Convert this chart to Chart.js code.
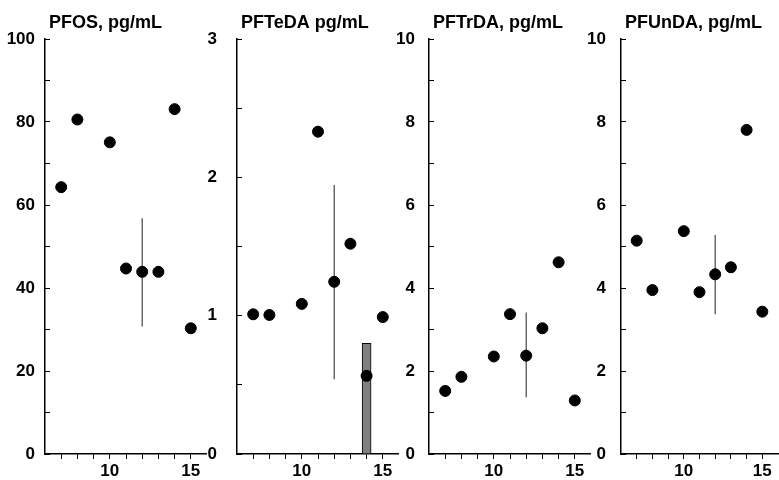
<!DOCTYPE html>
<html lang="en">

<head>
    <meta charset="UTF-8">
    <title>PFAS by age</title>
    <script src="https://cdn.jsdelivr.net/npm/chart.js"></script>
    <style>
        body { margin: 0; background: #fff; }
        #wrap { position: relative; width: 779px; height: 480px; overflow: hidden; }
        canvas { position: absolute; top: 0; }
    </style>
</head>

<body>
    <div id="wrap">
        <canvas id="c1" width="207" height="480" style="left:0px"></canvas>
        <canvas id="c2" width="207" height="480" style="left:192px"></canvas>
        <canvas id="c3" width="207" height="480" style="left:384px"></canvas>
        <canvas id="c4" width="203" height="480" style="left:576px"></canvas>
    </div>
    <script>
        // ages (x) shared by all panels
        const ages = [7, 8, 10, 11, 12, 13, 14, 15];
        const xLabelTicks = [10, 15];

        const pfos = [64.3, 80.6, 75.1, 44.7, 43.9, 43.9, 83.1, 30.3];
        const pfteda = [1.01, 1.005, 1.085, 2.33, 1.245, 1.52, 0.565, 0.99];
        const pftrda = [1.52, 1.86, 2.35, 3.37, 2.37, 3.03, 4.62, 1.29];
        const pfunda = [5.14, 3.95, 5.37, 3.90, 4.33, 4.50, 7.81, 3.43];

        // range bar at age 12 (low, high)
        const rangeAge = 12;
        const pfosRange = [30.7, 56.8];
        const pftedaRange = [0.54, 1.945];
        const pftrdaRange = [1.37, 3.41];
        const pfundaRange = [3.37, 5.28];

        // grey bar in PFTeDA panel
        const barAge = [14];
        const pftedaBar = [0.8];

        // y tick labels
        const pfosTicks = [0, 20, 40, 60, 80, 100];
        const pftedaTicks = [0, 1, 2, 3];
        const tenTicks = [0, 2, 4, 6, 8, 10];

        const FONT = "'Liberation Sans', Arial, sans-serif";

        // title drawn just right of the y axis
        const panelTitle = {
            id: 'panelTitle',
            afterDraw(chart, args, opts) {
                const ctx = chart.ctx;
                ctx.save();
                ctx.font = 'bold 18px ' + FONT;
                ctx.fillStyle = '#000';
                ctx.textBaseline = 'middle';
                ctx.textAlign = 'left';
                ctx.fillText(opts.text, chart.chartArea.left + 4, 23);
                ctx.restore();
            }
        };

        function makePanel(id, title, values, range, yMax, yStep, yLabels, labelPad, padRight, bar) {
            const datasets = [{
                type: 'scatter',
                data: ages.map((a, i) => ({ x: a, y: values[i] })),
                backgroundColor: '#000',
                borderColor: '#000',
                pointRadius: 5.5,
                pointHoverRadius: 5.5,
                order: 0
            }, {
                type: 'line',
                data: [{ x: rangeAge, y: range[0] }, { x: rangeAge, y: range[1] }],
                borderColor: '#444',
                borderWidth: 1.2,
                pointRadius: 0,
                order: 1
            }];
            if (bar) {
                datasets.push({
                    type: 'bar',
                    data: barAge.map((a, i) => ({ x: a, y: bar[i] })),
                    backgroundColor: '#808080',
                    borderColor: '#000',
                    borderWidth: 1,
                    barThickness: 9,
                    order: 2
                });
            }

            new Chart(document.getElementById(id), {
                type: 'scatter',
                data: { datasets },
                options: {
                    responsive: false,
                    animation: false,
                    layout: { autoPadding: false, padding: { top: 39, right: padRight, left: 0, bottom: 0 } },
                    plugins: {
                        legend: { display: false },
                        tooltip: { enabled: false },
                        panelTitle: { text: title }
                    },
                    scales: {
                        x: {
                            type: 'linear',
                            min: 6,
                            max: 16,
                            offset: false,
                            afterFit: s => { s.height = 26; s.paddingLeft = 0; s.paddingRight = 0; },
                            border: { display: true, color: '#000', width: 1.5 },
                            grid: {
                                offset: false,
                                drawOnChartArea: false,
                                drawTicks: true,
                                tickLength: 5,
                                tickColor: c => (c.tick && (c.tick.value === 6 || c.tick.value === 16)) ? 'rgba(0,0,0,0)' : '#000'
                            },
                            ticks: {
                                stepSize: 1,
                                autoSkip: false,
                                maxRotation: 0,
                                padding: 2,
                                color: '#000',
                                font: { family: FONT, size: 17, weight: 'bold' },
                                callback: v => xLabelTicks.includes(v) ? String(v) : ''
                            }
                        },
                        y: {
                            type: 'linear',
                            min: 0,
                            max: yMax,
                            afterFit: s => { s.width = 45; s.paddingTop = 0; s.paddingBottom = 0; },
                            border: { display: true, color: '#000', width: 1.5 },
                            grid: {
                                drawOnChartArea: false,
                                drawTicks: true,
                                tickLength: -5,
                                tickColor: '#000'
                            },
                            ticks: {
                                stepSize: yStep,
                                autoSkip: false,
                                padding: labelPad,
                                color: '#000',
                                font: { family: FONT, size: 17, weight: 'bold' },
                                callback: v => yLabels.includes(v) ? String(v) : ''
                            }
                        }
                    }
                },
                plugins: [panelTitle]
            });
        }

        makePanel('c1', 'PFOS, pg/mL', pfos, pfosRange, 100, 10, pfosTicks, 15, 0);
        makePanel('c2', 'PFTeDA pg/mL', pfteda, pftedaRange, 3, 0.5, pftedaTicks, 25, 0, pftedaBar);
        makePanel('c3', 'PFTrDA, pg/mL', pftrda, pftrdaRange, 10, 1, tenTicks, 19, 0);
        makePanel('c4', 'PFUnDA, pg/mL', pfunda, pfundaRange, 10, 1, tenTicks, 20, 1);
    </script>
</body>

</html>
